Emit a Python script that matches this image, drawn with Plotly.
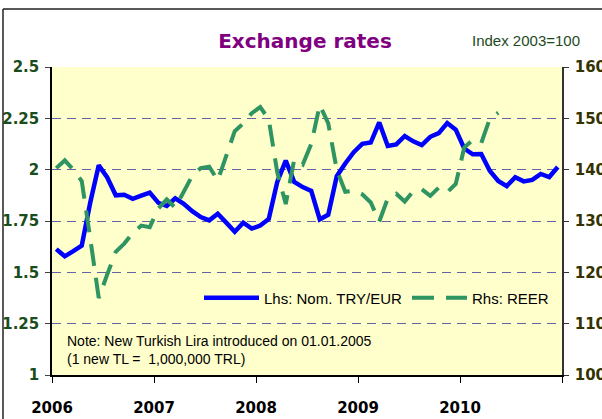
import plotly.graph_objects as go

# Monthly data, Jan 2006 - Dec 2010
year_labels = ["2006", "2007", "2008", "2009", "2010", ""]
nom_try_eur = [1.613, 1.578, 1.603, 1.630, 1.840, 2.021, 1.962, 1.875, 1.878, 1.858, 1.873, 1.888,
               1.839, 1.823, 1.860, 1.834, 1.798, 1.769, 1.753, 1.785, 1.742, 1.698, 1.742, 1.713,
               1.728, 1.760, 1.940, 2.044, 1.940, 1.915, 1.897, 1.758, 1.780, 1.968, 2.030, 2.085,
               2.126, 2.132, 2.230, 2.115, 2.123, 2.164, 2.138, 2.120, 2.160, 2.178, 2.227, 2.195,
               2.103, 2.075, 2.076, 1.995, 1.945, 1.920, 1.963, 1.943, 1.950, 1.979, 1.964, 2.013]
reer = [140.3, 141.8, 140.0, 137.8, 126.6, 115.0, 119.6, 124.0, 125.6, 127.7, 129.1, 128.8,
        132.4, 134.2, 132.6, 135.9, 138.8, 140.3, 140.6, 137.9, 142.5, 147.5, 149.0, 151.0,
        152.2, 149.8, 139.5, 133.3, 142.0, 141.0, 145.0, 152.6, 149.0, 140.0, 135.7, 135.9,
        135.2, 133.6, 129.9, 134.4, 135.3, 133.8, 135.8, 136.2, 134.9, 136.5, 135.6, 137.2,
        144.3, 145.8, 145.2, 149.9, 151.1, None, None, None, None, None, None, None]
lhs_ticks = [1, 1.25, 1.5, 1.75, 2, 2.25, 2.5]
lhs_labels = ["1", "1.25", "1.5", "1.75", "2", "2.25", "2.5"]
rhs_ticks = [100, 110, 120, 130, 140, 150, 160]

n = len(nom_try_eur)
x = [i + 0.5 for i in range(n)]  # category centres

fig = go.Figure()
fig.add_trace(go.Scatter(x=x, y=nom_try_eur, name="Lhs: Nom. TRY/EUR", mode="lines",
                         line=dict(color="#0000FF", width=4.5), yaxis="y"))
fig.add_trace(go.Scatter(x=x, y=reer, name="Rhs: REER", mode="lines",
                         line=dict(color="#2E9462", width=4, dash="22px,12px"), yaxis="y2"))

W, H = 602, 419
L, R, T, B = 52, 562, 67, 375
def px(v):
    return (v - L) / (R - L)
def py(v):
    return (B - v) / (B - T)

fig.update_layout(
    width=W, height=H,
    margin=dict(l=L, r=W - R, t=T, b=H - B, autoexpand=False),
    paper_bgcolor="white",
    plot_bgcolor="#FFFFCC",
    showlegend=True,
    title=dict(text="<b>Exchange rates</b>", x=305 / W, xanchor="center", y=1 - 41 / H, yanchor="middle",
               font=dict(family="DejaVu Sans", size=20, color="#800080"), automargin=False),
    xaxis=dict(range=[0, n], tickvals=[0, 12, 24, 36, 48, 60], ticktext=[f"<b>{t}</b>" for t in year_labels],
               showgrid=False, zeroline=False, showline=True, linecolor="black", linewidth=1.5,
               ticks="outside", ticklen=6, tickcolor="black", tickwidth=1.2, automargin=False,
               tickfont=dict(family="DejaVu Sans", size=15, color="black"), ticklabelstandoff=12),
    yaxis=dict(range=[1, 2.5], tickvals=lhs_ticks, ticktext=[f"<b>{t}</b>" for t in lhs_labels],
               showgrid=True, gridcolor="#6464A4", gridwidth=1.3, griddash="9px,6px",
               zeroline=False, showline=True, linecolor="black", linewidth=1.5, automargin=False,
               ticks="outside", ticklen=5, tickcolor="#444", tickwidth=1.2,
               tickfont=dict(family="DejaVu Sans", size=15, color="#1B4D1B"), ticklabelstandoff=3),
    yaxis2=dict(range=[100, 160], tickvals=rhs_ticks, ticktext=[f"<b>{t}</b>" for t in rhs_ticks],
                overlaying="y", side="right", showgrid=False, zeroline=False, automargin=False,
                showline=True, linecolor="#333", linewidth=1.5,
                ticks="outside", ticklen=5, tickcolor="#333", tickwidth=1.2,
                tickfont=dict(family="DejaVu Sans", size=15, color="#333300"), ticklabelstandoff=3),
    legend=dict(orientation="h", x=px(554), xanchor="right", y=py(298), yanchor="middle",
                bgcolor="rgba(0,0,0,0)", font=dict(family="Liberation Sans", size=15, color="black"),
                itemwidth=55, traceorder="normal"),
)

fig.add_annotation(text="Index 2003=100", xref="paper", yref="paper", x=px(470), y=py(41),
                   xanchor="left", yanchor="middle", showarrow=False,
                   font=dict(family="Liberation Sans", size=15, color="#1E4A1E"))
fig.add_annotation(text="Note: New Turkish Lira introduced on 01.01.2005<br>(1 new TL =  1,000,000 TRL)",
                   xref="paper", yref="paper", x=px(65), y=py(350), xanchor="left", yanchor="middle",
                   align="left", showarrow=False,
                   font=dict(family="Liberation Sans", size=14, color="black"))

# outer chart frame (top and left edges visible)
fig.add_shape(type="line", xref="paper", yref="paper", x0=px(3), x1=px(700), y0=py(9), y1=py(9),
              line=dict(color="#222", width=1.5))
fig.add_shape(type="line", xref="paper", yref="paper", x0=px(3), x1=px(3), y0=py(9), y1=py(500),
              line=dict(color="#222", width=1.5))

fig.write_html("out.html", config={"displayModeBar": False},
               post_script="document.body.style.margin='0';document.body.style.overflow='hidden';")
